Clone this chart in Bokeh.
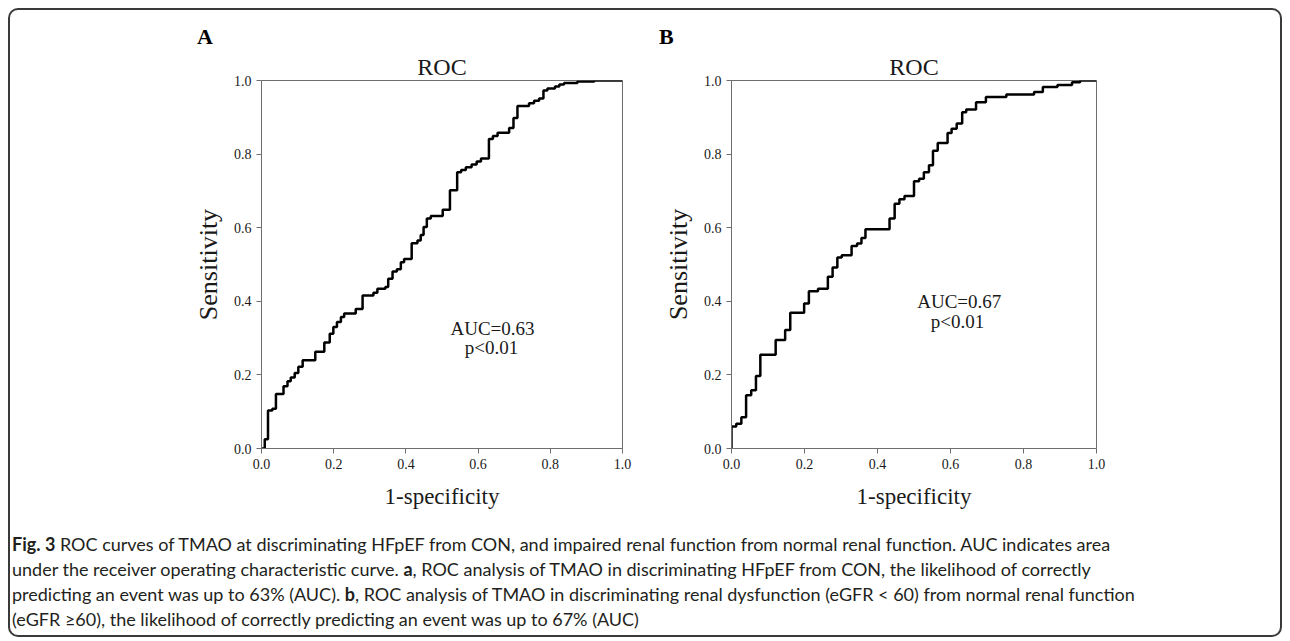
from bokeh.plotting import figure
from bokeh.models import Range1d, FixedTicker, PrintfTickFormatter, Label, Div
from bokeh.layouts import row, column
from bokeh.embed import file_html
from bokeh.resources import INLINE

# ---- data ----
fpr_a = [0.000, 0.009, 0.018, 0.030, 0.040, 0.061, 0.072, 0.081, 0.092, 0.102,
         0.114, 0.149, 0.174, 0.189, 0.199, 0.209, 0.220, 0.229, 0.261, 0.280,
         0.310, 0.321, 0.343, 0.351, 0.363, 0.375, 0.386, 0.395, 0.416, 0.432,
         0.441, 0.449, 0.458, 0.469, 0.502, 0.522, 0.542, 0.553, 0.566, 0.582,
         0.596, 0.608, 0.630, 0.641, 0.654, 0.686, 0.698, 0.709, 0.741, 0.755,
         0.769, 0.781, 0.792, 0.813, 0.825, 0.838, 0.875, 0.922, 1.000]
tpr_a = [0.000, 0.025, 0.103, 0.108, 0.148, 0.169, 0.183, 0.193, 0.205, 0.222,
         0.240, 0.263, 0.288, 0.312, 0.330, 0.344, 0.357, 0.367, 0.379, 0.416,
         0.423, 0.434, 0.439, 0.461, 0.481, 0.487, 0.506, 0.515, 0.558, 0.565,
         0.580, 0.602, 0.625, 0.632, 0.649, 0.702, 0.751, 0.757, 0.764, 0.772,
         0.780, 0.788, 0.841, 0.849, 0.858, 0.871, 0.898, 0.931, 0.938, 0.945,
         0.951, 0.973, 0.978, 0.984, 0.989, 0.993, 0.997, 1.000, 1.000]

fpr_b = [0.000, 0.000, 0.013, 0.027, 0.040, 0.054, 0.067, 0.079, 0.121, 0.147,
         0.161, 0.199, 0.212, 0.237, 0.264, 0.277, 0.290, 0.302, 0.329, 0.344,
         0.356, 0.367, 0.433, 0.447, 0.460, 0.474, 0.500, 0.514, 0.527, 0.541,
         0.552, 0.565, 0.592, 0.603, 0.617, 0.632, 0.643, 0.670, 0.697, 0.753,
         0.829, 0.853, 0.893, 0.933, 0.955, 1.000]
tpr_b = [0.000, 0.060, 0.067, 0.085, 0.145, 0.158, 0.197, 0.255, 0.295, 0.322,
         0.369, 0.394, 0.427, 0.434, 0.467, 0.492, 0.519, 0.525, 0.550, 0.557,
         0.572, 0.596, 0.625, 0.665, 0.677, 0.686, 0.726, 0.733, 0.751, 0.770,
         0.809, 0.830, 0.857, 0.869, 0.883, 0.914, 0.921, 0.941, 0.955, 0.962,
         0.969, 0.982, 0.988, 0.995, 1.000, 1.000]

tick_values = [0.0, 0.2, 0.4, 0.6, 0.8, 1.0]
panel_letters = ["A", "B"]
auc_texts = ["AUC=0.63", "AUC=0.67"]
p_texts = ["p<0.01", "p<0.01"]
title_text = "ROC"
x_label = "1-specificity"
y_label = "Sensitivity"

SERIF = "Liberation Serif"
AXIS_COL = "#6e6e6e"
TEXT_COL = "#1a1a1a"


def make_panel(fpr, tpr, auc, ptxt, width, height, mbl, mbr, mbt, mbb, auc_xy, p_xy):
    p = figure(width=width, height=height, x_range=Range1d(0, 1), y_range=Range1d(0, 1),
               output_backend="svg", toolbar_location=None,
               min_border_left=mbl, min_border_right=mbr,
               min_border_top=mbt, min_border_bottom=mbb,
               background_fill_color="white", border_fill_color="white")
    p.grid.visible = False
    p.outline_line_color = AXIS_COL
    p.outline_line_width = 1

    p.title.text = title_text
    p.title.align = "center"
    p.title.text_font = SERIF
    p.title.text_font_size = "24px"
    p.title.text_font_style = "normal"
    p.title.text_color = TEXT_COL
    p.title.standoff = 2

    for ax in (p.xaxis[0], p.yaxis[0]):
        ax.ticker = FixedTicker(ticks=tick_values, minor_ticks=[])
        ax.formatter = PrintfTickFormatter(format="%.1f")
        ax.axis_line_color = AXIS_COL
        ax.axis_line_width = 1
        ax.major_tick_line_color = AXIS_COL
        ax.major_tick_out = 5
        ax.major_tick_in = 0
        ax.minor_tick_line_color = None
        ax.major_label_text_font = SERIF
        ax.major_label_text_font_size = "14px"
        ax.major_label_text_color = TEXT_COL
        ax.major_label_standoff = 5
        ax.axis_label_text_font = SERIF
        ax.axis_label_text_font_style = "normal"
        ax.axis_label_text_color = TEXT_COL
    p.xaxis.axis_label = x_label
    p.yaxis.axis_label = y_label
    p.xaxis.axis_label_text_font_size = "23px"
    p.yaxis.axis_label_text_font_size = "26px"
    p.xaxis.axis_label_standoff = 12
    p.yaxis.axis_label_standoff = 8

    p.step(fpr, tpr, mode="after", line_color="black", line_width=2.5)

    p.add_layout(Label(x=auc_xy[0], y=auc_xy[1], text=auc, text_font=SERIF,
                       text_font_size="19px", text_color=TEXT_COL,
                       text_align="center", text_baseline="middle"))
    p.add_layout(Label(x=p_xy[0], y=p_xy[1], text=ptxt, text_font=SERIF,
                       text_font_size="19px", text_color=TEXT_COL,
                       text_align="center", text_baseline="middle"))
    return p


pA = make_panel(fpr_a, tpr_a, auc_texts[0], p_texts[0],
                width=650, height=467, mbl=251, mbr=38, mbt=32, mbb=63,
                auc_xy=(0.64, 0.327), p_xy=(0.637, 0.274))
pB = make_panel(fpr_b, tpr_b, auc_texts[1], p_texts[1],
                width=620, height=467, mbl=63, mbr=184, mbt=29, mbb=67,
                auc_xy=(0.624, 0.40), p_xy=(0.619, 0.346))


def letter_div(letter, width, pad_left):
    return Div(text=('<div style="font-family:\'Liberation Serif\', serif; font-weight:bold; '
                     'font-size:22px; line-height:22px; color:#000; '
                     f'padding:16px 0 0 {pad_left}px;">{letter}</div>'),
               width=width, height=38, margin=(0, 0, 0, 0))


letters = row(letter_div(panel_letters[0], 640, 187), letter_div(panel_letters[1], 630, 9))

caption_lines = [
    "<b>Fig. 3</b> ROC curves of TMAO at discriminating HFpEF from CON, and impaired renal function from normal renal function. AUC indicates area",
    "under the receiver operating characteristic curve. <b>a</b>, ROC analysis of TMAO in discriminating HFpEF from CON, the likelihood of correctly",
    "predicting an event was up to 63% (AUC). <b>b</b>, ROC analysis of TMAO in discriminating renal dysfunction (eGFR &lt; 60) from normal renal function",
    "(eGFR &ge;60), the likelihood of correctly predicting an event was up to 67% (AUC)",
]
caption = Div(
    text=('<div style="font-family:Lato, sans-serif; font-size:18px; line-height:25px; '
          'color:#231f20; padding:17px 0 0 2px; white-space:nowrap;">'
          + "<br>".join(caption_lines) + "</div>"),
    width=1270, height=120, margin=(0, 0, 0, 0))

layout = column(letters, row(pA, pB), caption,
                styles={"border": "2px solid #3a3a3a", "border-radius": "10px",
                        "margin": "8px 0 0 8px"})

open("out.html", "w").write(file_html(layout, INLINE))
